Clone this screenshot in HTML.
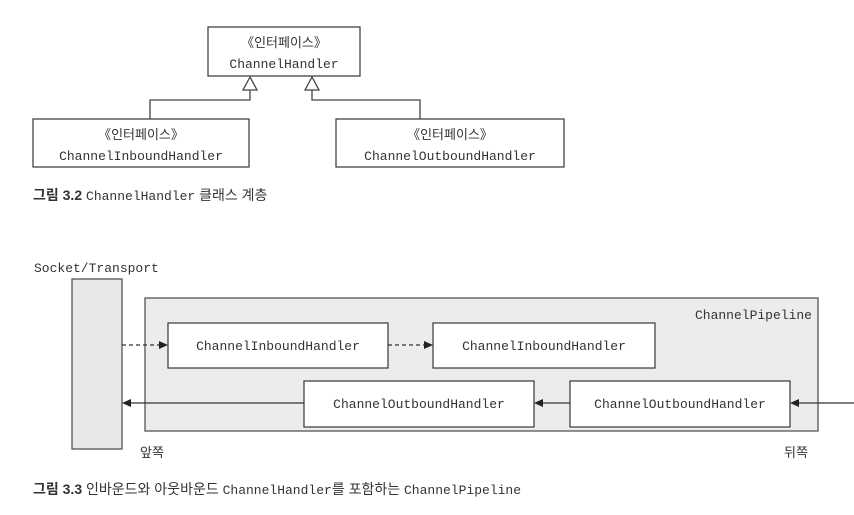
<!DOCTYPE html>
<html><head><meta charset="utf-8"><style>
body{margin:0;width:854px;height:510px;background:#fff;overflow:hidden}
</style></head><body>
<svg width="854" height="510" xmlns="http://www.w3.org/2000/svg" style="font-family:'Liberation Mono','Noto Sans CJK KR',monospace;font-size:13px;fill:#333">
<g stroke="#444" stroke-width="1.3" fill="#fff">
<rect x="208" y="27" width="152" height="49"/>
<rect x="33" y="119" width="216" height="48"/>
<rect x="336" y="119" width="228" height="48"/>
<polyline points="150,119 150,100 250,100 250,90" fill="none"/>
<polyline points="420,119 420,100 312,100 312,90" fill="none"/>
<polygon points="250,77 243,90 257,90"/>
<polygon points="312,77 305,90 319,90"/>
</g>
<g text-anchor="middle">
<text x="284" y="47">《인터페이스》</text>
<text x="284" y="68">ChannelHandler</text>
<text x="141" y="139">《인터페이스》</text>
<text x="141" y="160">ChannelInboundHandler</text>
<text x="450" y="139">《인터페이스》</text>
<text x="450" y="160">ChannelOutboundHandler</text>
</g>
<text x="33" y="200" style="font-family:'Liberation Sans','Noto Sans CJK KR',sans-serif;font-size:14px"><tspan font-weight="bold">그림 3.2</tspan> <tspan style="font-family:'Liberation Mono','Noto Sans CJK KR',monospace;font-size:13px">ChannelHandler</tspan> 클래스 계층</text>

<text x="34" y="272">Socket/Transport</text>
<rect x="72" y="279" width="50" height="170" fill="#e8e8e8" stroke="#555" stroke-width="1.3"/>
<rect x="145" y="298" width="673" height="133" fill="#ececec" stroke="#555" stroke-width="1.3"/>
<text x="812" y="319" text-anchor="end">ChannelPipeline</text>
<g stroke="#444" stroke-width="1.3" fill="#fff">
<rect x="168" y="323" width="220" height="45"/>
<rect x="433" y="323" width="222" height="45"/>
<rect x="304" y="381" width="230" height="46"/>
<rect x="570" y="381" width="220" height="46"/>
</g>
<g text-anchor="middle">
<text x="278" y="350">ChannelInboundHandler</text>
<text x="544" y="350">ChannelInboundHandler</text>
<text x="419" y="408">ChannelOutboundHandler</text>
<text x="680" y="408">ChannelOutboundHandler</text>
</g>
<g stroke="#333" stroke-width="1.3">
<line x1="122" y1="345" x2="160" y2="345" stroke-dasharray="4,3"/>
<line x1="388" y1="345" x2="425" y2="345" stroke-dasharray="4,3"/>
<line x1="304" y1="403" x2="130" y2="403"/>
<line x1="570" y1="403" x2="542" y2="403"/>
<line x1="854" y1="403" x2="798" y2="403"/>
</g>
<g fill="#222">
<polygon points="168,345 159,341 159,349"/>
<polygon points="433,345 424,341 424,349"/>
<polygon points="122,403 131,399 131,407"/>
<polygon points="534,403 543,399 543,407"/>
<polygon points="790,403 799,399 799,407"/>
</g>
<text x="140" y="457" style="font-family:'Liberation Sans','Noto Sans CJK KR',sans-serif;font-size:13px">앞쪽</text>
<text x="784" y="457" style="font-family:'Liberation Sans','Noto Sans CJK KR',sans-serif;font-size:13px">뒤쪽</text>
<text x="33" y="494" style="font-family:'Liberation Sans','Noto Sans CJK KR',sans-serif;font-size:14px"><tspan font-weight="bold">그림 3.3</tspan> 인바운드와 아웃바운드 <tspan style="font-family:'Liberation Mono','Noto Sans CJK KR',monospace;font-size:13px">ChannelHandler</tspan>를 포함하는 <tspan style="font-family:'Liberation Mono','Noto Sans CJK KR',monospace;font-size:13px">ChannelPipeline</tspan></text>
</svg>
</body></html>
